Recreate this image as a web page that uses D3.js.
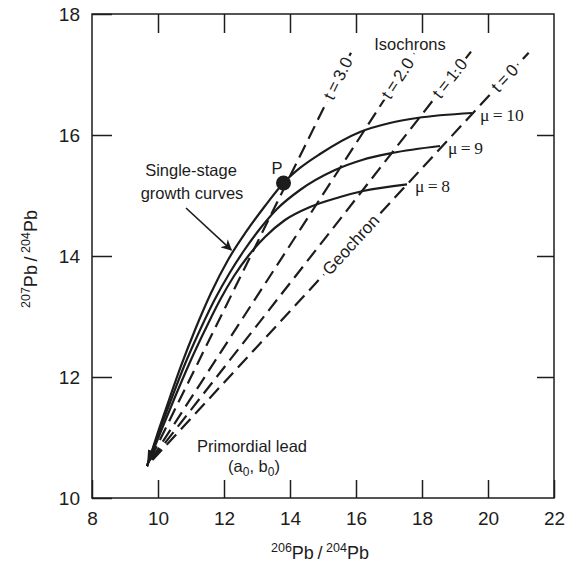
<!DOCTYPE html>
<html><head><meta charset="utf-8">
<script src="https://cdn.jsdelivr.net/npm/d3@7"></script>
<style>
body{margin:0;background:#fff;}
svg{display:block;font-family:"Liberation Sans",Arial,Helvetica,sans-serif;}
</style></head><body>
<svg id="chart" width="572" height="571"></svg>
<script>
// ---- data ----
const xTicks = [8, 10, 12, 14, 16, 18, 20, 22];
const yTicks = [10, 12, 14, 16, 18];
const primordial = [9.667, 10.529];
const mu10 = [[9.667,10.529],[10.0,11.091],[10.333,11.620],[10.697,12.182],[11.121,12.777],[11.606,13.388],[12.121,13.934],[12.667,14.397],[13.242,14.826],[13.803,15.207],[14.303,15.455],[14.909,15.686],[16.121,16.050],[17.030,16.198],[17.848,16.281],[19.515,16.364]];
const mu9  = [[9.667,10.529],[10.030,11.091],[10.394,11.620],[10.818,12.215],[11.273,12.777],[11.727,13.289],[12.152,13.702],[12.576,14.066],[13.061,14.430],[13.606,14.777],[14.303,15.091],[15.364,15.421],[16.182,15.587],[17.091,15.702],[18.545,15.818]];
const mu8  = [[9.667,10.529],[10.091,11.107],[10.515,11.669],[10.970,12.248],[11.424,12.777],[11.879,13.273],[12.303,13.669],[12.758,14.017],[13.242,14.314],[13.848,14.595],[14.606,14.810],[15.515,14.975],[16.212,15.074],[17.545,15.185]];
const muLabels = ["\u03bc\u2009=\u200910", "\u03bc\u2009=\u20099", "\u03bc\u2009=\u20098"];
const isoLabels = ["t\u2009=\u20090", "t\u2009=\u20091.0", "t\u2009=\u20092.0", "t\u2009=\u20093.0"];
const isoTops = [[21.233,17.361],[19.485,17.377],[17.767,17.350],[15.848,17.361]];
const pointP = [13.803, 15.207];
const arrowFrom = [10.848, 14.793];
const arrowTo = [12.22, 14.10];

// ---- chart ----
const svg = d3.select("#chart");
const ink = "#1c1c1c";
const x = d3.scaleLinear().domain([8, 22]).range([92, 554]);
const y = d3.scaleLinear().domain([10, 18]).range([498, 14]);

svg.append("defs").append("marker")
  .attr("id","ah").attr("viewBox","0 0 10 10").attr("refX",9).attr("refY",5)
  .attr("markerWidth",11).attr("markerHeight",11).attr("markerUnits","userSpaceOnUse")
  .attr("orient","auto")
  .append("path").attr("d","M0,0 L10,5 L0,10 L3,5 Z").attr("fill",ink);

// frame
svg.append("rect").attr("x",x(8)).attr("y",y(18)).attr("width",x(22)-x(8)).attr("height",y(10)-y(18))
  .attr("fill","none").attr("stroke",ink).attr("stroke-width",1.5);

function styleAxis(g){
  g.select(".domain").remove();
  g.selectAll(".tick line").attr("stroke",ink).attr("stroke-width",1.5);
  g.selectAll(".tick text").attr("fill",ink).style("font-size","19px").style("font-family",'"Liberation Sans",Arial,sans-serif');
}
svg.append("g").attr("transform",`translate(0,${y(10)})`)
  .call(d3.axisBottom(x).tickValues(xTicks).tickSize(-18).tickPadding(14).tickFormat(d3.format("d"))).call(styleAxis);
svg.append("g").attr("transform",`translate(${x(8)},0)`)
  .call(d3.axisLeft(y).tickValues(yTicks).tickSize(-20).tickPadding(12).tickFormat(d3.format("d"))).call(styleAxis);
svg.append("g").attr("transform",`translate(0,${y(18)})`)
  .call(d3.axisTop(x).tickValues(xTicks.slice(1,-1)).tickSize(-19).tickFormat("")).call(styleAxis);
svg.append("g").attr("transform",`translate(${x(22)},0)`)
  .call(d3.axisRight(y).tickValues(yTicks.slice(1,-1)).tickSize(-17).tickFormat("")).call(styleAxis);

// isochrons (dashed)
const P0 = [x(primordial[0]), y(primordial[1])];
isoTops.forEach(t => {
  svg.append("line").attr("x1",P0[0]).attr("y1",P0[1]).attr("x2",x(t[0])).attr("y2",y(t[1]))
    .attr("stroke",ink).attr("stroke-width",2.2).attr("stroke-dasharray","14,7").attr("stroke-dashoffset",-8);
});

// growth curves
const line = d3.line().x(d=>x(d[0])).y(d=>y(d[1])).curve(d3.curveMonotoneX);
[mu10, mu9, mu8].forEach(c => {
  svg.append("path").attr("d",line(c)).attr("fill","none").attr("stroke",ink).attr("stroke-width",2.2);
});

// tip arrowhead at primordial lead
(function(){
  const a = [x(mu9[1][0]), y(mu9[1][1])];
  const dx = P0[0]-a[0], dy = P0[1]-a[1], L = Math.hypot(dx,dy);
  const ux = dx/L, uy = dy/L, nx = -uy, ny = ux;
  const len = 16, w = 4.5;
  const bx = P0[0]-ux*len, by = P0[1]-uy*len;
  svg.append("path").attr("d",`M${P0[0]},${P0[1]} L${bx+nx*w},${by+ny*w} L${bx-nx*w},${by-ny*w} Z`).attr("fill",ink);
})();

// mu labels
[mu10, mu9, mu8].forEach((c,i) => {
  const e = c[c.length-1];
  svg.append("text").attr("x",x(e[0])+8).attr("y",y(e[1])+8)
    .style("font-family",'"Liberation Serif","Times New Roman",serif').style("font-size","17.5px")
    .attr("fill",ink).text(muLabels[i]);
});

// isochron labels along lines
function onLine(top, py){
  const B = [x(top[0]), y(top[1])];
  const f = (P0[1]-py)/(P0[1]-B[1]);
  const px = P0[0] + f*(B[0]-P0[0]);
  const ang = Math.atan2(B[1]-P0[1], B[0]-P0[0])*180/Math.PI;
  return [px, py, ang];
}
function haloText(px, py, ang, str, size){
  svg.append("text").attr("transform",`translate(${px},${py}) rotate(${ang})`)
    .attr("text-anchor","middle").attr("dominant-baseline","central")
    .style("font-size",size+"px").attr("fill",ink)
    .attr("stroke","#fff").attr("stroke-width",7).attr("stroke-linejoin","round")
    .style("paint-order","stroke").text(str);
}
isoTops.forEach((t,i) => {
  const [px,py,ang] = onLine(t, 78.5);
  haloText(px, py, ang, isoLabels[i], 17);
});
{ const [px,py,ang] = onLine(isoTops[0], 245); haloText(px, py, ang, "Geochron", 17); }

// texts
const ann = svg.append("g").style("font-size","16.5px").attr("fill",ink).attr("text-anchor","middle");
ann.append("text").attr("x",410).attr("y",50).text("Isochrons");
ann.append("text").attr("x",191).attr("y",176).text("Single-stage");
ann.append("text").attr("x",192).attr("y",199).text("growth curves");
ann.append("text").attr("x",277).attr("y",174).text("P");
ann.append("text").attr("x",252).attr("y",452).text("Primordial lead");
const ab = ann.append("text").attr("x",254).attr("y",472);
ab.append("tspan").text("(a");
ab.append("tspan").attr("dy",4).style("font-size","12px").text("0");
ab.append("tspan").attr("dy",-4).text(", b");
ab.append("tspan").attr("dy",4).style("font-size","12px").text("0");
ab.append("tspan").attr("dy",-4).text(")");

// arrow to growth curves
svg.append("line").attr("x1",x(arrowFrom[0])).attr("y1",y(arrowFrom[1]))
  .attr("x2",x(arrowTo[0])).attr("y2",y(arrowTo[1]))
  .attr("stroke",ink).attr("stroke-width",1.6).attr("marker-end","url(#ah)");

// point P
svg.append("circle").attr("cx",x(pointP[0])).attr("cy",y(pointP[1])).attr("r",7.5).attr("fill",ink);

// axis titles
const xt = svg.append("text").attr("x",320).attr("y",559).attr("text-anchor","middle").attr("fill",ink);
xt.append("tspan").attr("dy",-7).style("font-size","12.5px").text("206");
xt.append("tspan").attr("dy",7).style("font-size","18px").text("Pb\u2009/\u2009");
xt.append("tspan").attr("dy",-7).style("font-size","12.5px").text("204");
xt.append("tspan").attr("dy",7).style("font-size","18px").text("Pb");
const yt = svg.append("text").attr("transform","translate(37,259) rotate(-90)").attr("text-anchor","middle").attr("fill",ink);
yt.append("tspan").attr("dy",-7).style("font-size","12.5px").text("207");
yt.append("tspan").attr("dy",7).style("font-size","18px").text("Pb\u2009/\u2009");
yt.append("tspan").attr("dy",-7).style("font-size","12.5px").text("204");
yt.append("tspan").attr("dy",7).style("font-size","18px").text("Pb");
</script>
</body></html>
